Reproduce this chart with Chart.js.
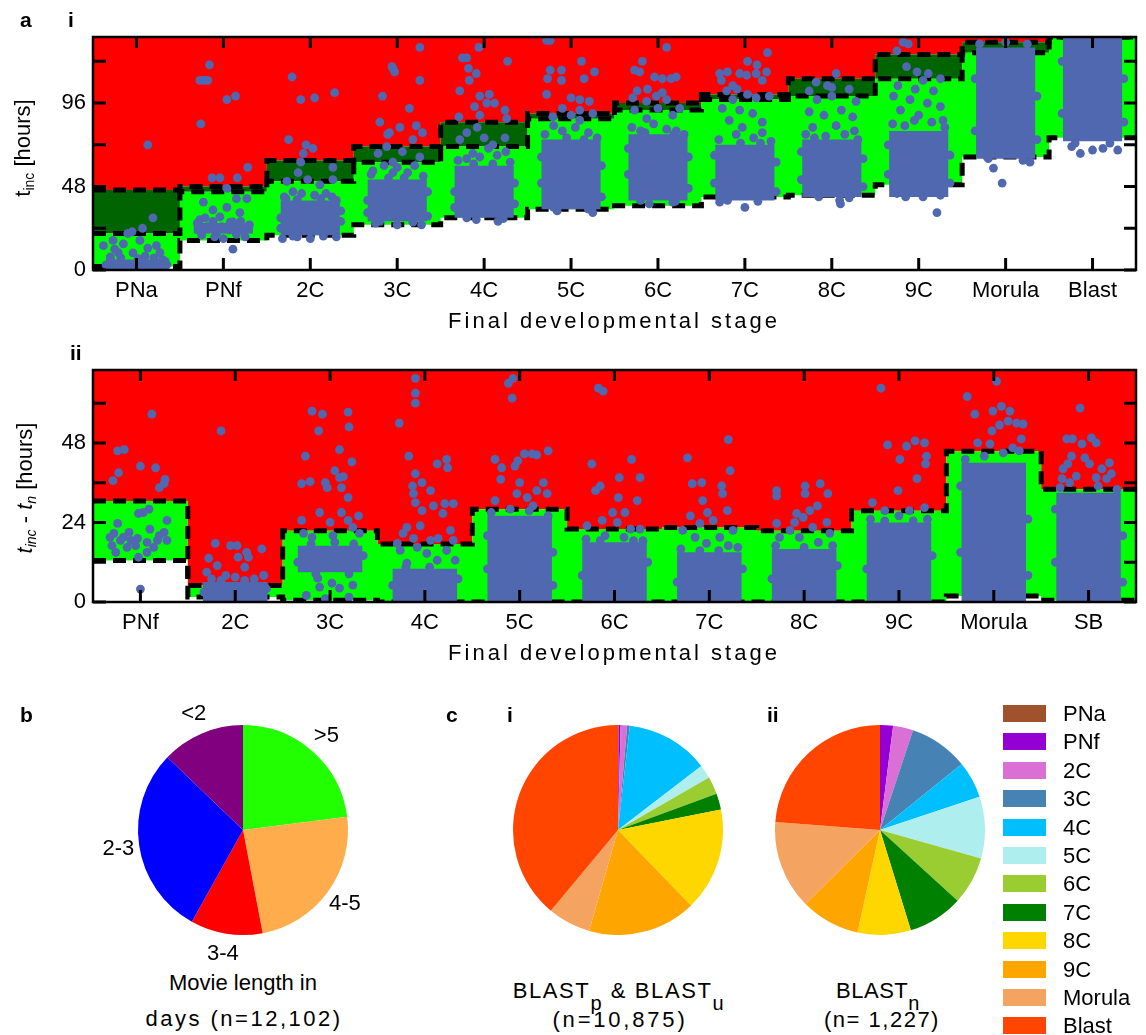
<!DOCTYPE html>
<html>
<head>
<meta charset="utf-8">
<script src="https://cdn.jsdelivr.net/npm/chart.js@4.4.1/dist/chart.umd.min.js"></script>
<style>
  body { margin: 0; background: #fff; font-family: 'Liberation Sans', Arial, sans-serif; }
  #fig { position: relative; width: 1146px; height: 1035px; overflow: hidden; background: #fff; }
  canvas { position: absolute; }
  .t { position: absolute; white-space: nowrap; color: #000; line-height: 1; }
  .lbl { font-weight: bold; font-size: 21px; }
  .xt { font-size: 22px; letter-spacing: 3px; transform: translateX(-50%); }
  .yt { font-size: 22px; transform: translate(-50%, -50%) rotate(-90deg); }
  .yt sub { font-size: 14px; vertical-align: -4px; }
  .cap { font-size: 22px; transform: translateX(-50%); text-align: center; }
  .cap sub { font-size: 20px; vertical-align: -12px; }
  .key { position: absolute; width: 43px; height: 17px; }
  .keytxt { position: absolute; font-size: 22px; line-height: 1; }
</style>
</head>
<body>
<div id="fig">
  <canvas id="incA" width="1146" height="330" style="left:0;top:0"></canvas>
  <canvas id="incB" width="1146" height="330" style="left:0;top:330px"></canvas>
  <canvas id="pieLen" width="330" height="260" style="left:78px;top:700px"></canvas>
  <canvas id="piePU" width="210" height="210" style="left:513px;top:725px"></canvas>
  <canvas id="pieN" width="210" height="210" style="left:775px;top:725px"></canvas>

  <div class="t lbl" style="left:20px;top:9px">a</div>
  <div class="t lbl" style="left:68px;top:9px">i</div>
  <div class="t lbl" style="left:70px;top:342px">ii</div>
  <div class="t lbl" style="left:20px;top:704px">b</div>
  <div class="t lbl" style="left:446px;top:704px">c</div>
  <div class="t lbl" style="left:507px;top:704px">i</div>
  <div class="t lbl" style="left:767px;top:704px">ii</div>

  <div class="t xt" style="left:614px;top:310px">Final developmental stage</div>
  <div class="t xt" style="left:614px;top:642px">Final developmental stage</div>
  <div class="t yt" style="left:24px;top:148px">t<sub>inc</sub> [hours]</div>
  <div class="t yt" style="left:26px;top:488px"><i>t</i><sub><i>inc</i></sub> - <i>t</i><sub><i>n</i></sub> [hours]</div>

  <div class="t cap" style="left:243px;top:972px">Movie length in</div>
  <div class="t cap" style="left:244px;top:1008px;letter-spacing:2.5px">days (n=12,102)</div>
  <div class="t cap" style="left:619px;top:980px;letter-spacing:1.6px">BLAST<sub>p</sub> &amp; BLAST<sub>u</sub></div>
  <div class="t cap" style="left:620px;top:1009px;letter-spacing:2.8px">(n=10,875)</div>
  <div class="t cap" style="left:878px;top:980px;letter-spacing:0.5px">BLAST<sub>n</sub></div>
  <div class="t cap" style="left:882px;top:1009px;letter-spacing:1.5px">(n= 1,227)</div>
  <div id="legend"></div>
</div>

<script>
// stages and boundaries (hours) for panel a-i
const stagesA = ['PNa', 'PNf', '2C', '3C', '4C', '5C', '6C', '7C', '8C', '9C', 'Morula', 'Blast'];
const lowA  = [2, 17, 20, 26, 30, 35, 37, 42, 43, 49, 65, 76];
const midA  = [21, 45, 51, 62, 71, 87, 92, 98, 100, 110, 125, 134];
const highA = [46, 48, 63, 71, 85, 90, 96, 101, 110, 124, 131, 134];
// dense core of each embryo cloud
const coreLowA  = [0, 21, 20, 28, 30, 35, 40, 40, 42, 42, 64, 74];
const coreHighA = [6, 27, 40, 52, 60, 75, 78, 72, 75, 80, 128, 134];
// loose embryos: [stage index, offset within column, hours]
const dotsA = [
  [0,0.13,72],[0,0.19,30],[0,0.07,24],[0,-0.05,22],[0,-0.1,21],[0,-0.27,17],[0,-0.38,14],[0,0.04,17],[0,0.23,14],[0,0.27,10],
  [0,-0.21,10],[0,-0.3,7.5],[0,0.13,12.6],[0,-0.04,9.8],[0,-0.15,15],[0,0.3,6],[0,-0.35,3],[0,0.35,3],[0,0.1,8],[0,-0.25,12],
  [0,-0.3,6],[0,-0.18,7],[0,0.02,6.5],[0,0.2,7],[0,0.33,5],
  [1,-0.16,118],[1,-0.27,109],[1,-0.22,109],[1,-0.18,109],[1,0.04,98],[1,0.14,100],[1,-0.26,84],[1,0.28,59],[1,-0.13,53],[1,-0.04,53],
  [1,0.16,53],[1,0.04,47],[1,0.11,12],[1,-0.23,39],[1,-0.12,34.5],[1,0.15,41],[1,0.27,41],[1,0.19,33],[1,-0.04,30.5],[1,-0.27,29],
  [1,-0.29,23],[1,-0.18,25],[1,-0.02,25],[1,0.07,23],[1,0.22,23],[1,0.28,24],[1,-0.08,21],[1,-0.21,30],[1,0.11,27.6],[1,0.04,36],
  [1,0.2,28],[1,-0.1,19],[1,0.25,19],[1,0,18],[1,-0.3,27],[1,-0.12,28],[1,0.08,27.5],[1,0.3,26],[1,-0.25,20],[1,0.15,20.5],
  [2,-0.21,111],[2,-0.11,98],[2,0.05,99],[2,0.28,102],[2,-0.25,75],[2,-0.05,72],[2,-0.08,67],[2,0.03,70],[2,-0.11,62],[2,-0.14,56],
  [2,-0.03,52],[2,0.26,59],[2,0.26,52],[2,-0.27,51],[2,0.11,49],[2,-0.2,45],[2,0.3,40],[2,-0.3,42],[2,-0.1,44],[2,0.05,43],
  [2,0.18,44],[2,0.25,42],[2,-0.32,18],[2,0,18],[2,0.3,19],[2,-0.15,19],
  [2,-0.28,41],[2,-0.15,40.5],[2,0.12,41],[2,0.28,39],[2,-0.34,30],[2,0.35,28],[2,-0.34,24],[2,0.35,34],[2,-0.2,19.5],[2,0.15,19.5],
  [3,-0.06,117],[3,-0.03,114],[3,-0.05,116],[3,0.26,128],[3,0.26,109],[3,-0.17,100],[3,-0.2,85],[3,-0.11,78],[3,0.14,93],[3,0.03,82],
  [3,0.22,83],[3,-0.09,79],[3,0.18,75],[3,0.29,79],[3,-0.22,67],[3,-0.12,71],[3,0.06,68],[3,0.26,65],[3,-0.28,57],[3,0,59],
  [3,-0.05,56],[3,-0.3,55],[3,-0.15,60],[3,0.12,56],[3,0.3,54],[3,0.2,60],[3,-0.05,62],[3,0,26],[3,-0.25,27],[3,0.28,26],
  [3,-0.34,40],[3,0.35,45],[3,-0.34,33],[3,0.35,31],[3,-0.1,53],[3,0.08,53],[3,-0.2,28],[3,0.18,27.5],
  [4,-0.06,128],[4,-0.25,122],[4,-0.2,122],[4,0.27,120],[4,-0.18,116],[4,-0.09,113],[4,-0.17,109],[4,-0.28,103],[4,-0.05,100],[4,0.06,101],
  [4,0.03,96],[4,0.12,96],[4,-0.11,94],[4,0.24,92],[4,-0.29,88],[4,-0.05,89],[4,-0.2,79],[4,-0.08,82],[4,0,76],[4,0.26,87],
  [4,0.24,76],[4,-0.28,75],[4,0.1,72],[4,-0.13,67],[4,0.16,28],[4,-0.09,29],[4,-0.3,63],[4,-0.05,65],[4,0.15,66],[4,0.3,62],
  [4,0.25,68],[4,-0.2,64],[4,0.05,70],
  [4,-0.34,45],[4,0.35,50],[4,-0.34,36],[4,0.35,38],[4,-0.12,61],[4,0.1,61],[4,-0.2,30],[4,0.22,29.5],
  [5,-0.28,132],[5,-0.24,132],[5,0.12,120],[5,-0.24,115],[5,-0.11,115],[5,0.27,114],[5,-0.27,110],[5,-0.11,109],[5,0.15,110],[5,-0.28,101],
  [5,0,99],[5,0.1,98],[5,0.21,97],[5,-0.1,93],[5,0.1,92],[5,-0.21,88],[5,0,89],[5,0.25,90],[5,0.1,86],[5,-0.16,34],
  [5,0.25,33],[5,-0.3,78],[5,-0.1,80],[5,0.05,82],[5,0.2,79],[5,0.3,76],[5,-0.2,83],
  [5,-0.34,50],[5,0.35,60],[5,-0.34,65],[5,0.35,42],[5,-0.2,36],[5,0.2,35],[5,-0.05,76],[5,0.15,75],
  [6,0.1,128],[6,-0.18,120],[6,-0.27,115],[6,-0.21,114],[6,-0.04,111],[6,0.05,110],[6,0.15,110],[6,0.21,111],[6,-0.12,104],[6,0.05,102],
  [6,-0.24,103],[6,-0.02,100],[6,-0.29,99],[6,-0.13,97],[6,0.1,98],[6,0,93],[6,0.25,93],[6,-0.27,92],[6,0.17,89],[6,-0.13,87],
  [6,0.21,80],[6,-0.1,38],[6,0.17,39],[6,-0.3,82],[6,-0.05,84],[6,0.1,81],[6,0.3,78],[6,-0.2,80],
  [6,-0.34,55],[6,0.35,65],[6,-0.34,70],[6,0.35,47],[6,-0.2,40],[6,0.2,39.5],[6,-0.15,79],[6,0.18,78],
  [7,0.26,125],[7,0.03,120],[7,0.14,118],[7,-0.29,113],[7,-0.2,114],[7,-0.06,113],[7,0.02,112],[7,0.13,113],[7,0.25,114],[7,-0.27,109],
  [7,-0.14,106],[7,0.2,109],[7,-0.21,103],[7,-0.09,104],[7,0.03,101],[7,0.13,99],[7,0.28,100],[7,-0.14,98],[7,-0.26,93],[7,-0.06,92],
  [7,0.09,90],[7,-0.18,86],[7,0.2,85],[7,-0.03,82],[7,-0.29,39],[7,0,36],[7,-0.3,75],[7,-0.1,78],[7,0.1,76],[7,0.3,74],[7,0.2,79],
  [7,-0.35,50],[7,0.36,62],[7,-0.35,66],[7,0.36,45],[7,-0.2,40],[7,0.15,39.5],[7,-0.05,73],[7,0.18,73],
  [8,0.05,113],[8,-0.18,108],[8,-0.05,106],[8,0,105],[8,-0.26,103],[8,0.2,104],[8,-0.17,98],[8,0,100],[8,0.28,97],[8,-0.26,91],
  [8,0.11,92],[8,-0.09,89],[8,0.24,88],[8,-0.22,82],[8,0.05,83],[8,0.26,80],[8,-0.3,78],[8,-0.07,77],[8,0.09,40],[8,0.1,38],
  [8,-0.2,76],[8,0.15,78],[8,0.3,75],[8,-0.35,52],[8,0.36,64],[8,-0.35,68],[8,0.36,48],[8,-0.15,42],[8,0.2,41.5],
  [9,-0.18,131],[9,-0.12,130],[9,-0.25,126],[9,-0.14,117],[9,-0.02,114],[9,0.11,113],[9,0.25,110],[9,0.05,109],[9,-0.24,106],[9,-0.04,104],
  [9,0.17,103],[9,-0.29,100],[9,-0.1,98],[9,0.1,96],[9,0.25,94],[9,-0.21,92],[9,0,89],[9,0.28,86],[9,-0.16,83],[9,0.21,33],
  [9,0.05,42],[9,-0.25,44],[9,-0.3,84],[9,0.15,85],[9,0.3,82],[9,-0.05,86],
  [9,-0.35,55],[9,0.36,66],[9,-0.35,72],[9,0.36,50],[9,-0.15,42],[9,0.25,43],
  [10,-0.14,58.6],[10,-0.04,50],[10,0.28,62],[10,-0.3,130],[10,0,131],[10,0.25,130],
  [10,-0.35,80],[10,0.36,100],[10,-0.35,110],[10,0.36,75],[10,-0.2,64],[10,0.2,63],
  [11,-0.14,67],[11,0,69],[11,0.12,70],[11,0.29,69],[11,-0.24,71],
  [11,-0.35,90],[11,0.36,110],[11,-0.35,120],[11,0.36,85],[11,-0.2,73],[11,0.2,73]
];

// panel a-ii: time since pronuclear fading
const stagesB = ['PNf', '2C', '3C', '4C', '5C', '6C', '7C', '8C', '9C', 'Morula', 'SB'];
const lowB  = [12.5, 1.5, 0.5, 0, 0, 0, 0, 0, 0, 1.8, 0.5];
const highB = [30.5, 5, 21.5, 17.5, 28, 22, 22.5, 21.5, 27.5, 45.5, 34];
const coreLowB  = [null, 0, 9, 0, 0, 0, 0, 0, 0, 0, 0];
const coreHighB = [null, 6, 17, 10, 26, 18, 15, 16, 24, 42, 33];
const dotsB = [
  [0,0.12,56.7],[0,-0.24,45.6],[0,-0.17,46],[0,0,41],[0,0.16,40.5],[0,-0.23,39],[0,-0.29,36.6],[0,0.26,37],[0,0.25,35.7],[0,0.2,34.5],
  [0,0.09,28],[0,0.03,27],[0,-0.02,26.7],[0,-0.24,23.7],[0,0.28,24.6],[0,-0.28,20.7],[0,-0.18,19.5],[0,-0.1,18.6],[0,-0.03,19.2],[0,0.07,18],
  [0,0.18,18.6],[0,0.25,21],[0,0.14,16.5],[0,-0.26,15],[0,-0.14,16.5],[0,-0.02,13.5],[0,0.07,15],[0,-0.21,18.6],[0,0.28,18.6],[0,-0.32,19.5],
  [0,0,3.9],[0,-0.12,21],[0,0.1,22],[0,-0.05,17],[0,0.2,20],[0,-0.3,17],
  [1,-0.15,51.6],[1,-0.21,17.7],[1,-0.05,17],[1,0.02,17],[1,0.28,16],[1,0.12,15],[1,-0.28,13.2],[1,0.03,13.5],[1,0.14,13.5],[1,-0.19,11],
  [1,0.1,10.5],[1,-0.3,9],[1,0.3,8],[1,-0.25,7],[1,0,7.5],[1,0.2,7],[1,-0.1,8],
  [1,-0.33,3],[1,0.33,4],[1,-0.15,6.5],[1,0.1,6.5],
  [2,-0.19,57.6],[2,-0.08,56.7],[2,0.19,57.3],[2,-0.12,51.6],[2,0.2,52.8],[2,0.1,46],[2,-0.26,44],[2,0.23,42.3],[2,0.05,39.6],[2,0.1,37.5],
  [2,0.14,37.8],[2,-0.3,35.7],[2,-0.21,36.3],[2,-0.05,36],[2,-0.03,34.5],[2,0.12,34.5],[2,0.19,31.5],[2,-0.11,27],[2,0.12,27],[2,0.19,24.6],
  [2,0.3,26],[2,-0.3,24.6],[2,0,24],[2,0.24,22.5],[2,-0.11,4.5],[2,0.1,4.2],[2,0.24,5.1],[2,-0.13,7.2],[2,0.02,5.7],[2,-0.28,20.7],
  [2,-0.19,19.5],[2,0.03,20],[2,0.31,20.7],[2,-0.25,2],[2,0.2,1.5],[2,-0.05,1],
  [2,-0.34,12],[2,0.35,14],[2,-0.2,17.5],[2,0.05,18],[2,0.25,17.5],[2,-0.15,8.5],[2,0.2,8.5],
  [3,-0.1,67.5],[3,-0.1,63],[3,-0.1,60],[3,-0.27,54],[3,-0.17,44],[3,0.13,41.7],[3,0.23,43],[3,0.24,40.5],[3,-0.1,38.7],[3,-0.03,36],
  [3,-0.13,35],[3,0.06,33.6],[3,-0.12,32.7],[3,0.3,29.7],[3,0.21,29.7],[3,0.09,29],[3,-0.1,30],[3,-0.03,27.6],[3,0.19,26.7],[3,-0.19,22.5],
  [3,-0.05,23],[3,0.27,21.6],[3,-0.23,20.7],[3,0.06,18.6],[3,0.14,19.2],[3,-0.26,15.6],[3,-0.08,16.5],[3,0.02,14.7],[3,0.23,15.6],[3,0.32,12.6],
  [3,-0.19,11.7],[3,0.13,12.6],[3,-0.29,17.7],[3,-0.12,19.2],[3,0.3,18.6],
  [3,-0.34,5],[3,0.35,7],[3,-0.2,10.5],[3,0.05,10.5],
  [4,-0.12,66],[4,-0.07,67.5],[4,-0.08,61.5],[4,-0.26,43],[4,-0.19,40.5],[4,-0.05,41],[4,-0.02,42.6],[4,0.05,44.7],[4,0.13,44.7],[4,0.18,44.4],
  [4,0.3,45.6],[4,-0.2,37],[4,0,36],[4,0.18,33.6],[4,0.25,36],[4,-0.03,32.7],[4,0.29,32.7],[4,-0.26,30.6],[4,0.08,31.5],[4,0.14,29],
  [4,-0.3,27],[4,-0.1,28],[4,0.1,27.5],[4,0.3,26],[4,-0.34,10],[4,0.35,15],[4,-0.34,20],[4,0.35,5],
  [5,-0.17,64.5],[5,-0.12,63.6],[5,-0.24,41.7],[5,0.18,43],[5,0.05,37.5],[5,0.27,37.5],[5,-0.15,35],[5,-0.2,33.6],[5,0.04,31.5],[5,0.24,30.6],
  [5,-0.02,27],[5,0.11,27],[5,-0.29,23],[5,-0.13,24.6],[5,0.03,24],[5,0.17,22],[5,0.27,22],[5,-0.3,19],[5,-0.1,20],[5,0.1,19.5],[5,0.3,18.5],
  [5,-0.34,8],[5,0.35,12],[5,-0.15,18.5],[5,0.2,18.5],
  [6,0.2,49],[6,-0.23,43.5],[6,0.22,39.6],[6,-0.18,35.7],[6,-0.08,36],[6,0.13,35],[6,0.14,32.7],[6,-0.07,30.6],[6,0.19,27.6],[6,-0.2,26],
  [6,-0.02,27],[6,-0.1,23.7],[6,0.04,24.6],[6,0.25,21.6],[6,-0.28,21.6],[6,-0.15,19.5],[6,0.11,19.5],[6,-0.03,17.7],[6,-0.3,16],[6,0.3,16.5],[6,0.2,17],
  [6,-0.34,6],[6,0.35,10],[6,-0.1,15.5],[6,0.1,15.5],
  [7,-0.29,33.6],[7,-0.29,32],[7,0.01,35],[7,0.01,32.7],[7,0.17,35.7],[7,0.25,32.7],[7,-0.08,26.7],[7,0.06,27.6],[7,0.14,29],[7,-0.1,24],
  [7,-0.01,25.5],[7,-0.29,23.7],[7,0.24,24],[7,-0.15,21.6],[7,0.09,22.5],[7,0.27,20.7],[7,-0.26,19.5],[7,-0.05,19.5],[7,-0.3,17],[7,0.3,17],[7,0.15,18],
  [7,-0.34,7],[7,0.35,11],[7,0,16.5],
  [8,-0.19,64.5],[8,-0.12,47.4],[8,0.08,47],[8,0.17,48.6],[8,0.27,48],[8,0.29,44],[8,0.28,41.7],[8,0.01,43],[8,0.19,37.2],[8,-0.01,33.6],
  [8,-0.28,30],[8,0.27,28.5],[8,-0.15,27.6],[8,0.11,27.6],[8,-0.3,25],[8,0.3,25],[8,0,26],
  [8,-0.34,10],[8,0.35,14],[8,-0.15,24.5],[8,0.15,24.5],
  [9,0.03,66.6],[9,-0.28,62],[9,-0.2,56.7],[9,-0.01,57.6],[9,0.08,59],[9,0.17,57.6],[9,-0.02,51.6],[9,0.06,53.4],[9,0.15,54.6],[9,0.24,54],
  [9,0.31,53.7],[9,0.29,49.2],[9,-0.17,48],[9,0.2,46.5],[9,0.27,45.6],[9,-0.04,47.7],[9,-0.3,43],[9,-0.1,44],[9,0.1,45],
  [9,-0.35,15],[9,0.36,25],[9,-0.35,35],[9,0.36,8],
  [10,-0.09,58.5],[10,-0.23,49.2],[10,-0.17,49.2],[10,0.03,49.5],[10,0.08,48],[10,-0.07,47.7],[10,-0.18,44],[10,-0.04,43.5],[10,0.22,42],[10,-0.22,41.7],
  [10,0.01,41.7],[10,0.14,40.2],[10,-0.27,40.2],[10,0.24,38.7],[10,-0.13,38],[10,0.08,37.5],[10,-0.28,37.2],[10,0.19,37.2],[10,-0.2,36],
  [10,-0.3,34.5],[10,0.3,34],[10,0.1,35],[10,-0.35,12],[10,0.36,20],[10,-0.35,28],[10,0.36,6]
];

// panel b: movie length in days (% of movies)
const lengthLabels = ['>5', '4-5', '3-4', '2-3', '<2'];
const lengthShare  = [23.0, 24.0, 11.1, 29.1, 12.8];
const lengthColors = ['#22ff00', '#ffad4c', '#ff0000', '#0000ff', '#800080'];

// panel c: final stage shares (%)
const stageNames  = ['PNa', 'PNf', '2C', '3C', '4C', '5C', '6C', '7C', '8C', '9C', 'Morula', 'Blast'];
const stageColors = ['#a0522d', '#9400d3', '#da70d6', '#4682b4', '#00bfff', '#afeeee', '#9acd32', '#008000', '#ffd700', '#ffa500', '#f4a460', '#ff4500'];
const sharePU = [0.1, 0.3, 1.0, 0.4, 12.8, 2.1, 2.7, 2.5, 15.9, 16.7, 6.6, 39.0];
const shareN  = [0, 2.0, 3.1, 9.1, 5.7, 9.5, 7.4, 8.5, 8.2, 9.1, 13.7, 23.8];

const FONT = "'Liberation Sans', Arial, sans-serif";
const dotBlue = '#5068b0';

// box with inward ticks on all four sides
const frameTicks = {
  id: 'frameTicks',
  afterDatasetsDraw(chart) {
    const { ctx, chartArea: a, scales } = chart;
    ctx.save();
    ctx.strokeStyle = '#000';
    ctx.lineWidth = 2.5;
    ctx.strokeRect(a.left, a.top, a.right - a.left, a.bottom - a.top);
    ctx.lineWidth = 3;
    ctx.beginPath();
    scales.x.ticks.forEach(t => {
      const px = scales.x.getPixelForValue(t.value);
      ctx.moveTo(px, a.bottom); ctx.lineTo(px, a.bottom - 12);
      ctx.moveTo(px, a.top); ctx.lineTo(px, a.top + 11);
    });
    scales.y.ticks.forEach(t => {
      const py = scales.y.getPixelForValue(t.value);
      ctx.moveTo(a.left, py); ctx.lineTo(a.left + 13, py);
      ctx.moveTo(a.right, py); ctx.lineTo(a.right - 12, py);
    });
    ctx.stroke();
    ctx.restore();
  }
};

// one flat step per stage column
function stepLine(values) {
  const pts = [];
  values.forEach((v, i) => { pts.push({ x: i - 0.5, y: v }, { x: i + 0.5, y: v }); });
  return pts;
}

function dashed(values) {
  return { type: 'line', data: stepLine(values), borderColor: '#000', borderWidth: 5,
           borderDash: [13, 7], pointRadius: 0, fill: false, tension: 0, order: 2 };
}

function band(values, fill, color, order) {
  return { type: 'line', data: stepLine(values), fill: fill, backgroundColor: color,
           borderWidth: 0, pointRadius: 0, tension: 0, order: order };
}

function stageChart(id, stages, ymax, step, labelEvery, yPadTop, xAxisH, datasets) {
  return new Chart(document.getElementById(id), {
    type: 'scatter',
    data: { datasets: datasets },
    options: {
      responsive: false,
      animation: false,
      layout: { padding: { top: yPadTop, right: 10, left: 0, bottom: 0 } },
      plugins: { legend: { display: false }, tooltip: { enabled: false } },
      scales: {
        x: {
          type: 'linear', min: -0.5, max: stages.length - 0.5, offset: false,
          afterBuildTicks: s => { s.ticks = stages.map((_, i) => ({ value: i })); },
          afterFit: s => { s.height = xAxisH; },
          grid: { display: false, drawTicks: false, offset: false }, border: { display: false },
          ticks: { callback: v => stages[v], font: { family: FONT, size: 22 }, color: '#000',
                   padding: 8, autoSkip: false, maxRotation: 0 }
        },
        y: {
          min: 0, max: ymax,
          afterFit: s => { s.width = 93; },
          grid: { display: false, drawTicks: false }, border: { display: false },
          ticks: { stepSize: step, includeBounds: false, callback: v => (v % labelEvery === 0 ? v : ''),
                   font: { family: FONT, size: 22 }, color: '#000', padding: 7 }
        }
      }
    },
    plugins: [frameTicks]
  });
}

function cores(lo, hi) {
  const data = [];
  lo.forEach((v, i) => { if (v !== null) data.push({ x: i, y: [v, hi[i]] }); });
  return { type: 'bar', data: data, backgroundColor: dotBlue, barPercentage: 0.68,
           categoryPercentage: 1, order: 1 };
}

function dots(list) {
  return { type: 'scatter', data: list.map(d => ({ x: d[0] + d[1], y: d[2] })),
           pointRadius: 4.4, backgroundColor: dotBlue, borderWidth: 0, order: 0 };
}

// a-i: red above the upper limit, dark green margin, light green normal range
stageChart('incA', stagesA, 134, 24, 48, 37, 60, [
  dots(dotsA),
  cores(coreLowA, coreHighA),
  dashed(highA), dashed(midA), dashed(lowA),
  band(highA, 'end', '#ff0000', 5),
  band(midA, 5, '#006400', 4),
  band(lowA, 6, '#00ff00', 3)
]);

// a-ii: red above the limit, light green below it
stageChart('incB', stagesB, 70, 12, 24, 40, 58, [
  dots(dotsB),
  cores(coreLowB, coreHighB),
  dashed(highB), dashed(lowB),
  band(highB, 'end', '#ff0000', 4),
  band(lowB, 4, '#00ff00', 3)
]);

// labels placed just outside each slice
const sliceLabels = {
  id: 'sliceLabels',
  afterDraw(chart) {
    const ctx = chart.ctx;
    ctx.save();
    ctx.font = '22px ' + FONT;
    ctx.fillStyle = '#000';
    ctx.textAlign = 'center';
    ctx.textBaseline = 'middle';
    chart.getDatasetMeta(0).data.forEach((arc, i) => {
      const mid = (arc.startAngle + arc.endAngle) / 2;
      const r = arc.outerRadius + 21;
      ctx.fillText(chart.data.labels[i], arc.x + Math.cos(mid) * r, arc.y + Math.sin(mid) * r);
    });
    ctx.restore();
  }
};

function pie(id, labels, values, colors, padding, extra) {
  return new Chart(document.getElementById(id), {
    type: 'pie',
    data: { labels: labels, datasets: [{ data: values, backgroundColor: colors, borderWidth: 0 }] },
    options: {
      responsive: false,
      animation: false,
      layout: { padding: padding },
      plugins: { legend: { display: false }, tooltip: { enabled: false } }
    },
    plugins: extra
  });
}

pie('pieLen', lengthLabels, lengthShare, lengthColors, { left: 60, right: 60, top: 25, bottom: 25 }, [sliceLabels]);
pie('piePU', stageNames, sharePU, stageColors, 0, []);
pie('pieN', stageNames, shareN, stageColors, 0, []);

// stage colour key
const legend = document.getElementById('legend');
stageNames.forEach((name, k) => {
  const top = 705 + k * 28.4;
  const box = document.createElement('div');
  box.className = 'key';
  box.style.left = '1003px';
  box.style.top = top + 'px';
  box.style.background = stageColors[k];
  legend.appendChild(box);
  const txt = document.createElement('div');
  txt.className = 'keytxt';
  txt.style.left = '1063px';
  txt.style.top = (top - 2) + 'px';
  txt.textContent = name;
  legend.appendChild(txt);
});
</script>
</body>
</html>
